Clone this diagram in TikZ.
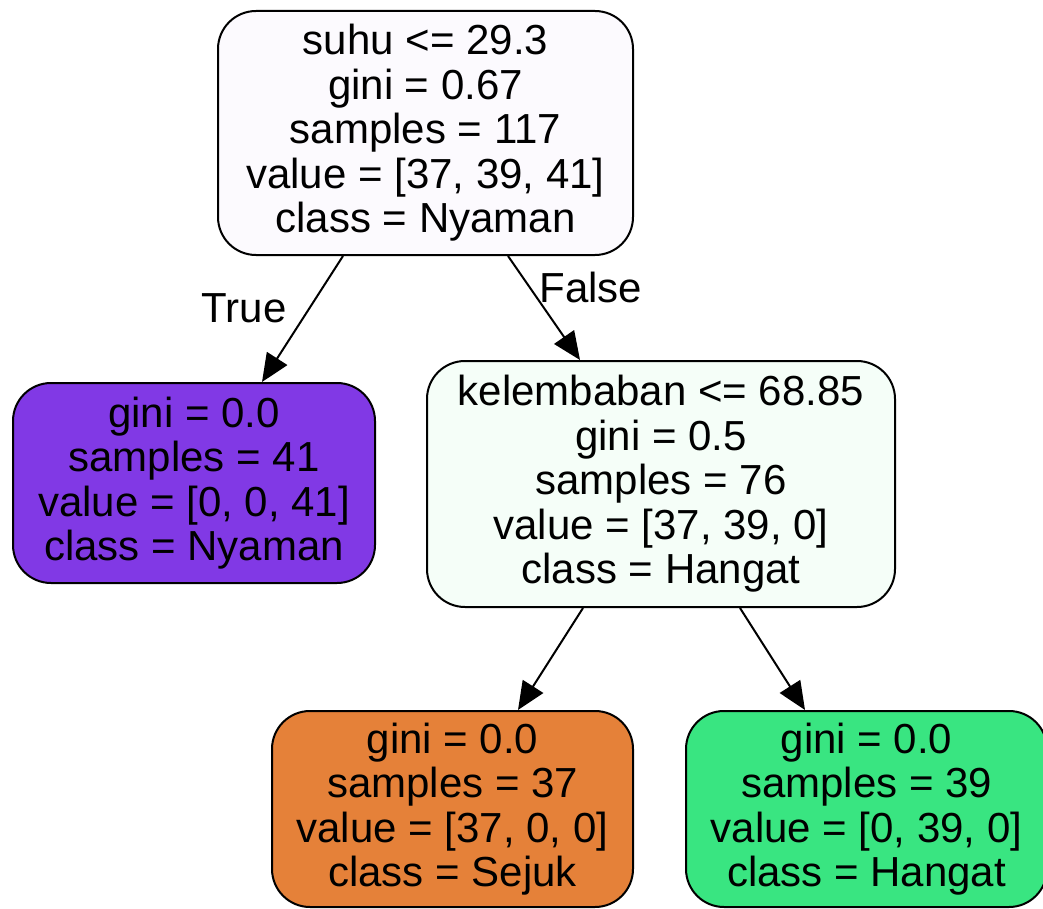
\documentclass[tikz,border=0pt]{standalone}
\usepackage{fontspec}
\setmainfont{Liberation Sans}
\usetikzlibrary{arrows.meta,calc}
\definecolor{rootfill}{HTML}{FCFAFE}
\definecolor{midfill}{HTML}{F5FEF8}
\definecolor{nyaman}{HTML}{8139E5}
\definecolor{sejuk}{HTML}{E58139}
\definecolor{hangat}{HTML}{39E581}
\begin{document}
\begin{tikzpicture}[x=1pt,y=-1pt,
  treenode/.style={draw=black,line width=2pt,rounded corners=38pt,
    align=center,inner sep=0pt,
    font=\fontsize{42}{44.5}\selectfont},
  edgelabel/.style={inner sep=0pt,font=\fontsize{42}{44.5}\selectfont},
  branch/.style={line width=2pt,-{Triangle[length=28pt,width=24pt]}}]
\useasboundingbox (0,0) rectangle (1043,909);
% split nodes
\node[treenode,fill=rootfill,minimum width=415pt,minimum height=244pt] (root) at (425.5,133)
  {suhu <= 29.3\\gini = 0.67\\samples = 117\\value = [37, 39, 41]\\class = Nyaman};
\node[treenode,fill=midfill,minimum width=468pt,minimum height=246pt] (mid) at (661,484)
  {kelembaban <= 68.85\\gini = 0.5\\samples = 76\\value = [37, 39, 0]\\class = Hangat};
% leaves
\node[treenode,fill=nyaman,minimum width=362pt,minimum height=200pt] (leafnya) at (194,483)
  {gini = 0.0\\samples = 41\\value = [0, 0, 41]\\class = Nyaman};
\node[treenode,fill=sejuk,minimum width=361pt,minimum height=196pt] (leafsej) at (452.5,809)
  {gini = 0.0\\samples = 37\\value = [37, 0, 0]\\class = Sejuk};
\node[treenode,fill=hangat,minimum width=361pt,minimum height=196pt] (leafhan) at (866.5,809)
  {gini = 0.0\\samples = 39\\value = [0, 39, 0]\\class = Hangat};
% branches
\draw[branch] ($(root.south)+(-82.5,0)$) -- ($(leafnya.north)+(68,0)$);
\draw[branch] ($(root.south)+(82.5,0)$) -- ($(mid.north)+(-81,0)$);
\draw[branch] ($(mid.south)+(-78,0)$) -- ($(leafsej.north)+(65.5,0)$);
\draw[branch] ($(mid.south)+(79,0)$) -- ($(leafhan.north)+(-61.5,0)$);
% branch labels
\node[edgelabel] (truelbl) at (244,308) {True};
\node[edgelabel] (falselbl) at (591,287) {False};
\end{tikzpicture}
\end{document}
